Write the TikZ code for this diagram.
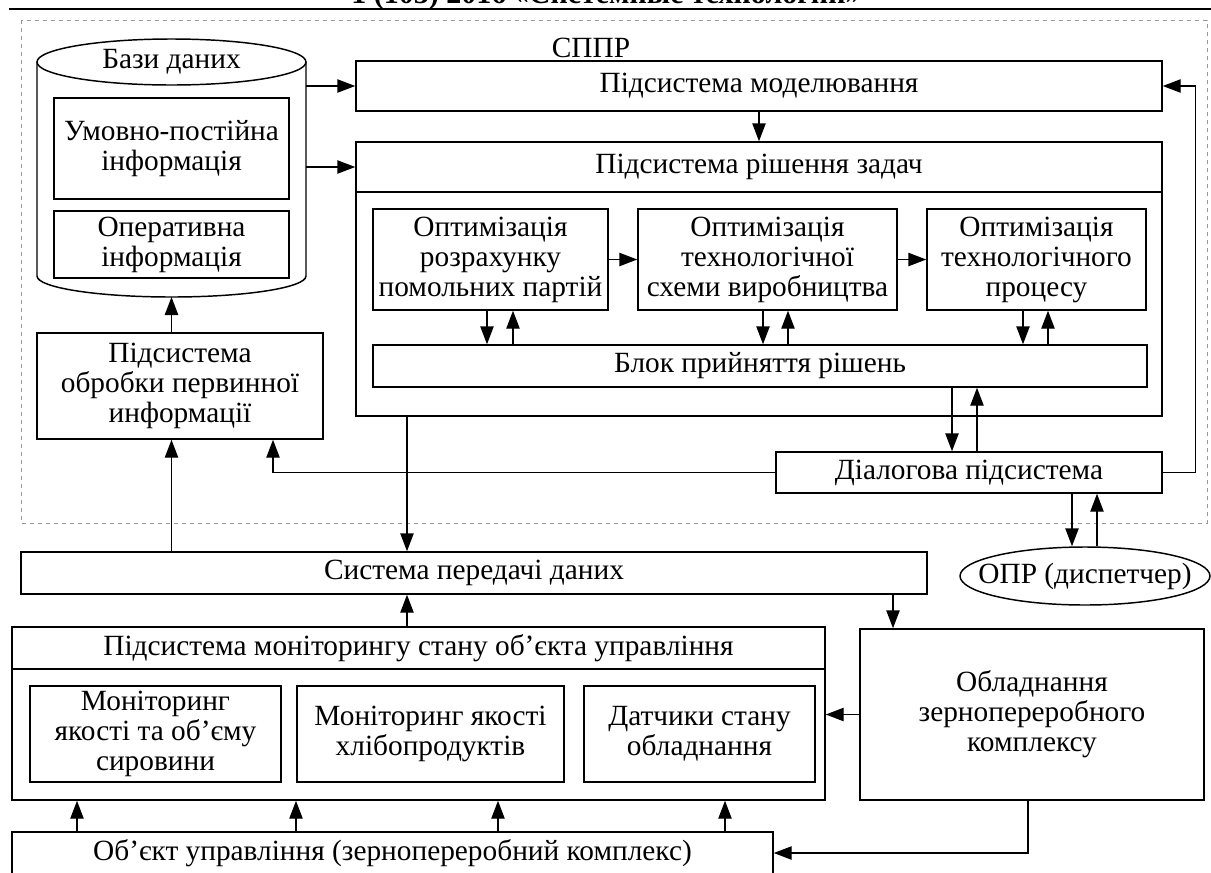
\documentclass[tikz,border=0pt]{standalone}
\usepackage{fontspec}
\setmainfont{Liberation Serif}
\usetikzlibrary{arrows.meta,shapes.geometric}
\newcommand\rbox[6][]{%
  \node[box,#1, minimum width={(#5-#3)*0.75pt}, minimum height={(#6-#4)*0.75pt}]
    at ({(#3+#5)/2},{(#4+#6)/2}) (#2) {\vphantom{}};}
\begin{document}
\begin{tikzpicture}[x=0.75pt,y=-0.75pt,
  box/.style={draw, line width=1.1pt, inner sep=0pt, align=center, font=\fontsize{22}{22.5}\selectfont},
  lbl/.style={inner sep=0pt, align=center, font=\fontsize{22}{22.5}\selectfont},
  arr/.style={-{Triangle[length=13.5pt,width=10pt]}, line width=1.1pt},
  ln/.style={line width=1.1pt}]
\useasboundingbox (0,0) rectangle (1211,872);
\clip (0,0) rectangle (1211,872);
% header (cut off at the top edge, as in the reference)
\node[anchor=base, inner sep=0pt, font=\bfseries\fontsize{22.5}{22.5}\selectfont] (hd) at (606,3) {1 (103) 2016 «Системные технологии»};
\draw[line width=2.2pt] (9,9) -- (1211,9);
% dashed area
\draw[draw=gray!80, dashed, line width=0.7pt] (21,20) rectangle (1207,523);
\node[lbl] (sppr) at (591,48) {СППР};
% database cylinder
\node[ellipse, draw, line width=1.1pt, minimum width=201.75pt, minimum height=34.5pt, inner sep=0pt] (db) at (171.5,62) {};
\node[lbl] (dbt) at (171.5,62) {Бази даних};
\draw[ln] (37,62) -- (37,276) arc[start angle=180, end angle=360, x radius=100.875pt, y radius=15.75pt] -- (306,62);
\coordinate (cylb) at (171.5,297);
\rbox{uinf}{54}{98}{289}{199}
\rbox{oinf}{54}{211}{289}{278}
% modelling & solving
\rbox{mod}{356}{61}{1162}{111}
\rbox{resh}{356}{142}{1162}{192}
\rbox{reshb}{356}{192}{1162}{416}
\rbox{opt1}{373}{209}{608}{310}
\rbox{opt2}{638}{209}{897}{310}
\rbox{opt3}{927}{209}{1146}{310}
\rbox{blok}{373}{345}{1147}{387}
\rbox{obr}{37}{333}{323}{439}
\rbox{dial}{776}{452}{1162}{493}
\node[ellipse, draw, line width=1.1pt, minimum width=187.5pt, minimum height=43.5pt, inner sep=0pt] (opr) at (1085,576) {};
\rbox{spd}{21}{552}{927}{594}
\rbox{monh}{12}{627}{825}{669}
\rbox{monb}{12}{669}{825}{800}
\rbox{m1}{30}{686}{281}{782}
\rbox{m2}{297}{686}{564}{782}
\rbox{m3}{584}{686}{815}{782}
\rbox{obl}{860}{629}{1204}{800}
\rbox{obj}{12}{832}{773}{874}
% texts
\node[lbl] at (uinf) {Умовно-постійна\\інформація};
\node[lbl] at (oinf) {Оперативна\\інформація};
\node[lbl] at (mod) {Підсистема моделювання};
\node[lbl] at (resh) {Підсистема рішення задач};
\node[lbl] at (opt1) {Оптимізація\\розрахунку\\помольних партій};
\node[lbl] at (opt2) {Оптимізація\\технологічної\\схеми виробництва};
\node[lbl] at (opt3) {Оптимізація\\технологічного\\процесу};
\node[lbl] at (blok) {Блок прийняття рішень};
\node[lbl] at (obr) {Підсистема\\обробки первинної\\информації};
\node[lbl] at (dial) {Діалогова підсистема};
\node[lbl] at (opr) {ОПР (диспетчер)};
\node[lbl] at (spd) {Система передачі даних};
\node[lbl] at (monh) {Підсистема моніторингу стану об’єкта управління};
\node[lbl] at (m1) {Моніторинг\\якості та об’єму\\сировини};
\node[lbl] at (m2) {Моніторинг якості\\хлібопродуктів};
\node[lbl] at (m3) {Датчики стану\\обладнання};
\node[lbl] at (obl) {Обладнання\\зернопереробного\\комплексу};
\node[lbl] at (obj) {Об’єкт управління (зернопереробний комплекс)};
% connectors
\draw[arr] (mod.west -| 306,0) -- (mod.west);
\draw[arr] (resh.west -| 306,0) -- (resh.west);
\draw[arr] (mod.south) -- (resh.north);
\draw[arr] (opt1.east) -- (opt2.west);
\draw[arr] (opt2.east) -- (opt3.west);
\draw[arr] (opt1.south -| 487,0) -- (blok.north -| 487,0);
\draw[arr] (blok.north -| 513,0) -- (opt1.south -| 513,0);
\draw[arr] (opt2.south -| 763,0) -- (blok.north -| 763,0);
\draw[arr] (blok.north -| 788,0) -- (opt2.south -| 788,0);
\draw[arr] (opt3.south -| 1023,0) -- (blok.north -| 1023,0);
\draw[arr] (blok.north -| 1048,0) -- (opt3.south -| 1048,0);
\draw[arr] (blok.south -| 952,0) -- (dial.north -| 952,0);
\draw[arr] (dial.north -| 977,0) -- (blok.south -| 977,0);
\draw[arr] (dial.east) -- ++(33,0) |- (mod.east);
\draw[arr] (dial.west) -| (obr.south -| 273,0);
\draw[arr] (obr.north -| cylb) -- (cylb);
\draw[arr] (spd.north -| cylb) -- (obr.south -| cylb);
\draw[arr] (reshb.south -| 407,0) -- (spd.north -| 407,0);
\draw[arr] (dial.south -| 1072,0) -- (opr.north -| 1072,0);
\draw[arr] (opr.north -| 1097,0) -- (dial.south -| 1097,0);
\draw[arr] (monh.north -| 407,0) -- (spd.south -| 407,0);
\draw[arr] (spd.south -| 893,0) -- (obl.north -| 893,0);
\draw[arr] (obl.west) -- (obl.west -| monb.east);
\draw[arr] (obl.south -| 1028,0) |- (obj.east);
\draw[arr] (obj.north -| 77,0) -- (monb.south -| 77,0);
\draw[arr] (obj.north -| 296,0) -- (monb.south -| 296,0);
\draw[arr] (obj.north -| 498,0) -- (monb.south -| 498,0);
\draw[arr] (obj.north -| 725,0) -- (monb.south -| 725,0);
\end{tikzpicture}
\end{document}
